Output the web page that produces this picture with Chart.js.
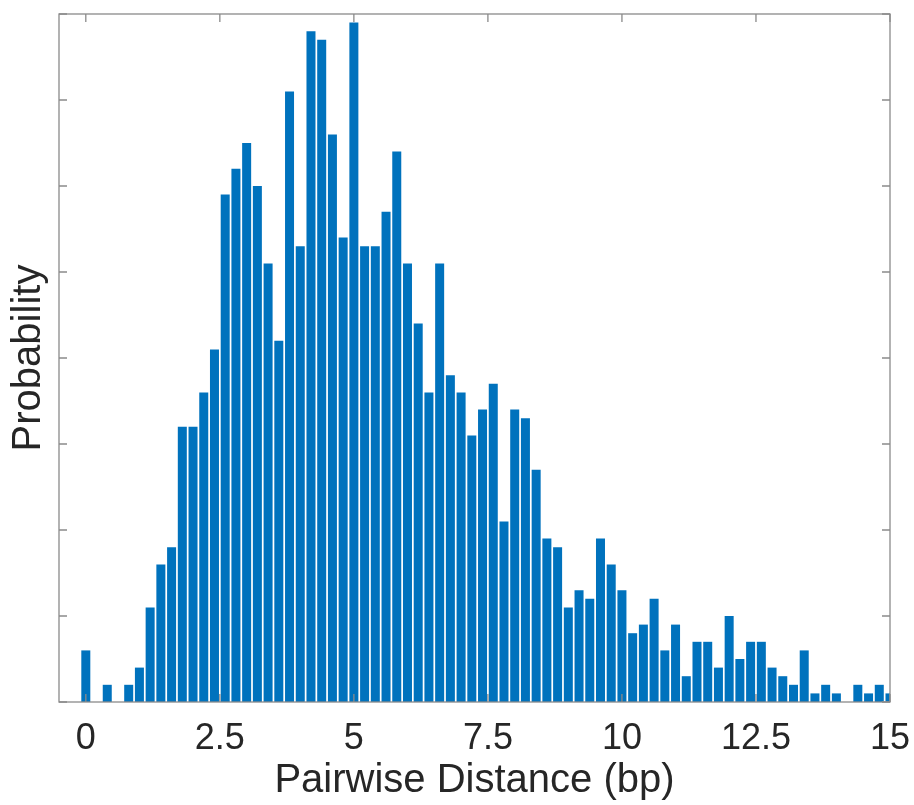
<!DOCTYPE html>
<html>
<head>
<meta charset="utf-8">
<script src="https://cdn.jsdelivr.net/npm/chart.js@4.4.1/dist/chart.umd.min.js"></script>
<style>
html, body { margin: 0; padding: 0; background: #fff; }
</style>
</head>
<body>
<canvas id="chartHist" width="914" height="805"></canvas>
<script>
// histogram bins (bin width 0.2 bp), heights
const binCenters = [
    0, 0.2, 0.4, 0.6, 0.8, 1, 1.2, 1.4, 1.6, 1.8,
    2, 2.2, 2.4, 2.6, 2.8, 3, 3.2, 3.4, 3.6, 3.8,
    4, 4.2, 4.4, 4.6, 4.8, 5, 5.2, 5.4, 5.6, 5.8,
    6, 6.2, 6.4, 6.6, 6.8, 7, 7.2, 7.4, 7.6, 7.8,
    8, 8.2, 8.4, 8.6, 8.8, 9, 9.2, 9.4, 9.6, 9.8,
    10, 10.2, 10.4, 10.6, 10.8, 11, 11.2, 11.4, 11.6, 11.8,
    12, 12.2, 12.4, 12.6, 12.8, 13, 13.2, 13.4, 13.6, 13.8,
    14, 14.2, 14.4, 14.6, 14.8, 15
];
const binHeights = [
    6, 0, 2, 0, 2, 4, 11, 16, 18, 32,
    32, 36, 41, 59, 62, 65, 60, 51, 42, 71,
    53, 78, 77, 66, 54, 79, 53, 53, 57, 64,
    51, 44, 36, 51, 38, 36, 31, 34, 37, 21,
    34, 33, 27, 19, 18, 11, 13, 12, 19, 16,
    13, 8, 9, 12, 6, 9, 3, 7, 7, 4,
    10, 5, 7, 7, 4, 3, 2, 6, 1, 2,
    1, 0, 2, 1, 2, 1
];
const xTickValues = [0, 2.5, 5, 7.5, 10, 12.5, 15];
const yTickValues = [0, 10, 20, 30, 40, 50, 60, 70, 80];

const barColor = "#0072BD";
const axisColor = "#8a8a8a";
const textColor = "#262626";
const fontFamily = "'Liberation Sans', Arial, sans-serif";

// MATLAB style box with ticks pointing inwards
const insideTicks = {
    id: "insideTicks",
    afterDatasetsDraw(chart) {
        const {ctx, chartArea: a, scales: {x, y}} = chart;
        const len = 8;
        ctx.save();
        ctx.strokeStyle = axisColor;
        ctx.lineWidth = 1.3;
        ctx.strokeRect(a.left, a.top, a.right - a.left, a.bottom - a.top);
        ctx.beginPath();
        x.ticks.forEach(function(t) {
            let px = x.getPixelForValue(t.value);
            ctx.moveTo(px, a.bottom); ctx.lineTo(px, a.bottom - len);
            ctx.moveTo(px, a.top); ctx.lineTo(px, a.top + len);
        });
        y.ticks.forEach(function(t) {
            let py = y.getPixelForValue(t.value);
            ctx.moveTo(a.left, py); ctx.lineTo(a.left + len, py);
            ctx.moveTo(a.right, py); ctx.lineTo(a.right - len, py);
        });
        ctx.stroke();
        ctx.restore();
    }
};

var ctxHist = document.getElementById("chartHist").getContext("2d");
var chartHist = new Chart(ctxHist, {
    type: "bar",
    data: {
        datasets: [{
            data: binCenters.map((c, i) => ({x: c, y: binHeights[i]})),
            backgroundColor: barColor,
            borderWidth: 0,
            categoryPercentage: 1.0,
            barPercentage: 0.84
        }]
    },
    options: {
        responsive: false,
        devicePixelRatio: 1,
        animation: false,
        layout: {padding: {left: 5, right: 24, top: 14, bottom: 0}},
        plugins: {
            legend: {display: false},
            tooltip: {enabled: false}
        },
        scales: {
            x: {
                type: "linear",
                offset: false,
                min: -0.5,
                max: 15,
                afterBuildTicks: (scale) => { scale.ticks = xTickValues.map(v => ({value: v})); },
                afterFit: (scale) => {
                    scale.paddingLeft = 0;
                    scale.paddingRight = 0;
                    scale.height = 103;
                },
                grid: {display: false, drawTicks: false},
                border: {display: false},
                ticks: {
                    color: textColor,
                    padding: 19,
                    maxRotation: 0,
                    font: {family: fontFamily, size: 36, lineHeight: 1.0},
                    callback: (v) => String(v)
                },
                title: {
                    display: true,
                    text: "Pairwise Distance (bp)",
                    color: textColor,
                    font: {family: fontFamily, size: 40},
                    padding: {top: 3, bottom: 0}
                }
            },
            y: {
                min: 0,
                max: 80,
                afterBuildTicks: (scale) => { scale.ticks = yTickValues.map(v => ({value: v})); },
                grid: {display: false, drawTicks: false},
                border: {display: false},
                ticks: {display: false},
                title: {
                    display: true,
                    text: "Probability",
                    color: textColor,
                    font: {family: fontFamily, size: 40},
                    padding: {top: 0, bottom: 6}
                }
            }
        }
    },
    plugins: [insideTicks]
});
</script>
</body>
</html>
